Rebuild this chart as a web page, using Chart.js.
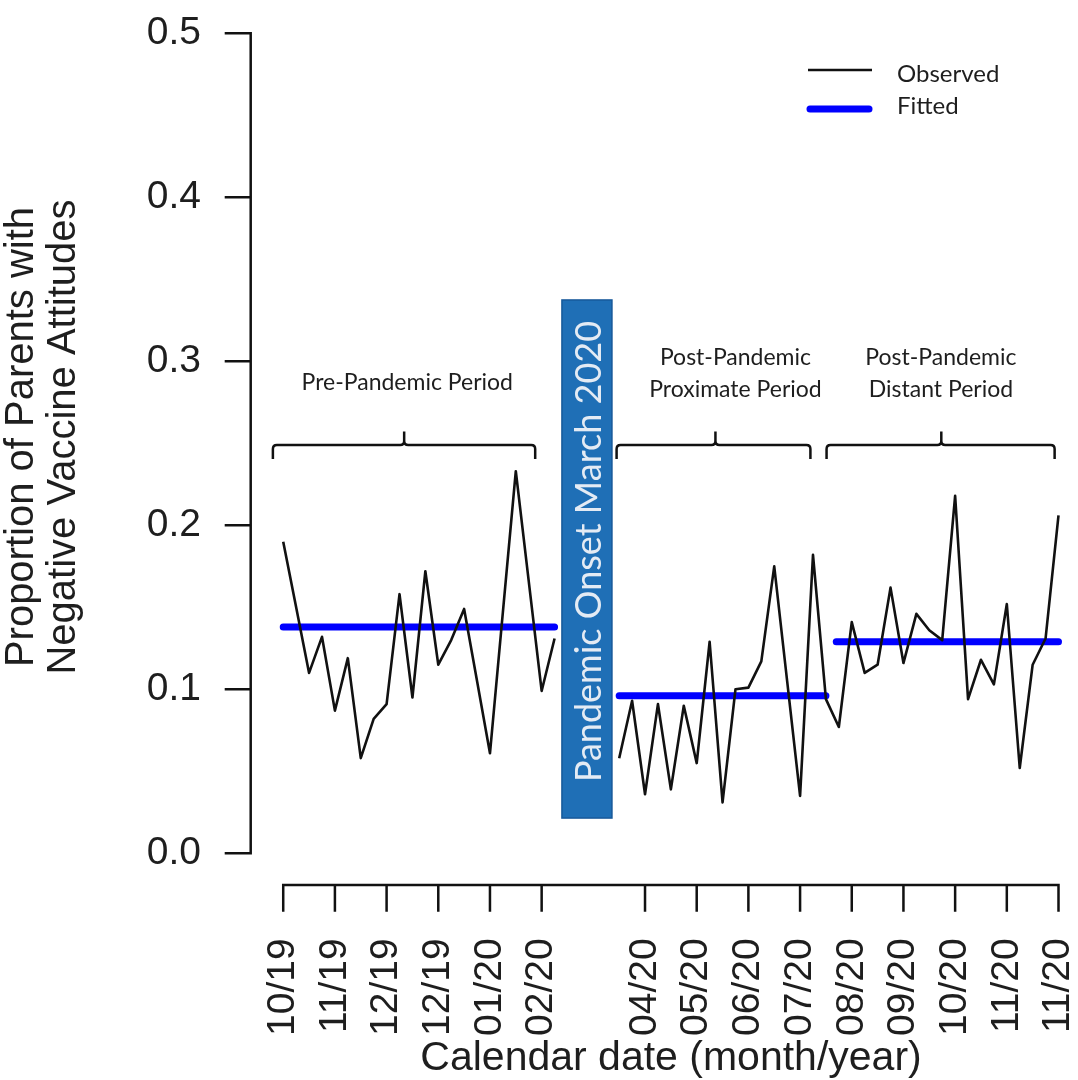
<!DOCTYPE html>
<html>
<head>
<meta charset="utf-8">
<script src="https://cdn.jsdelivr.net/npm/chart.js@4.4.1/dist/chart.umd.min.js"></script>
<style>
html,body{margin:0;padding:0;background:#fff;}
#wrap{width:1078px;height:1080px;position:relative;}
</style>
</head>
<body>
<div id="wrap"><canvas id="c" width="1078" height="1080"></canvas></div>
<script>
// ---------- data ----------
const weeks = [0,1,2,3,4,5,6,7,8,9,10,11,12,13,14,15,16,17,18,19,20,
  21,22,23,24,25,26,27,28,29,30,31,32,33,34,35,36,37,38,39,40,
  41,42,43,44,45,46,47,48,49,50,51,52,53,54,55,56,57,58,59,60];
const observed = [0.190,0.150,0.110,0.132,0.087,0.119,0.058,0.082,0.091,0.158,0.095,
  0.172,0.115,0.130,0.149,0.105,0.061,0.147,0.233,0.166,0.099,
  0.131,null,null,null,null,0.058,0.093,0.036,0.091,0.039,
  0.090,0.055,0.129,0.031,0.100,0.101,0.117,0.175,0.105,0.035,
  0.182,0.094,0.077,0.141,0.110,0.115,0.162,0.116,0.146,0.136,
  0.130,0.218,0.094,0.118,0.103,0.152,0.052,0.115,0.131,0.206];
const fittedLevels = [0.138, 0.096, 0.129];
const fittedStart = [0, 26, 42.8];
const fittedEnd = [21, 42, 60];

const xTickWeeks = [0,4,8,12,16,20,28,32,36,40,44,48,52,56,60];
const xTickLabels = ['10/19','11/19','12/19','12/19','01/20','02/20','04/20','05/20','06/20','07/20','08/20','09/20','10/20','11/20','11/20'];
const yTickValues = [0,0.1,0.2,0.3,0.4,0.5];
const yTickLabels = ['0.0','0.1','0.2','0.3','0.4','0.5'];
const xTitle = 'Calendar date (month/year)';
const yTitle = ['Proportion of Parents with','Negative Vaccine Attitudes'];

const periodLabels = [['Pre-Pandemic Period'],['Post-Pandemic','Proximate Period'],['Post-Pandemic','Distant Period']];
const periodLabelX = [9.6, 35.0, 50.9];
const bracketStart = [-0.8, 25.8, 42.05];
const bracketEnd = [19.5, 40.8, 59.7];
const bracketMid = [9.36, 33.45, 50.93];
const bracketY = {top:0.249, ends:0.2404, tip:0.2572};
const labelY1 = 0.2868, labelY2a = 0.3024, labelY2b = 0.2829;

const onsetText = 'Pandemic Onset March 2020';
const onsetBoxX = [21.57, 25.44];
const onsetBoxY = [0.0215, 0.3374];
const onsetTextY = 0.184;

const legendLabels = ['Observed','Fitted'];

// ---------- chart ----------
const obsData = weeks.map((w,i)=>({x:w, y:observed[i]}));
const fitDatasets = fittedLevels.map((lv,i)=>({
  label:'Fitted'+i,
  data:[{x:fittedStart[i],y:lv},{x:fittedEnd[i],y:lv}],
  borderColor:'#0000ff', borderWidth:7, borderCapStyle:'round',
  pointRadius:0, fill:false, clip:false
}));

const AXIS_COLOR = '#111';
const TEXT_COLOR = '#1e1e1e';
const CAL = 'Lato, "Open Sans", sans-serif';
const ARIAL = '"Liberation Sans", Arial, sans-serif';

const overlay = {
  id:'overlay',
  afterDatasetsDraw(chart){
    const {ctx, scales:{x,y}} = chart;
    ctx.save();
    // onset box
    const bx1 = x.getPixelForValue(onsetBoxX[0]), bx2 = x.getPixelForValue(onsetBoxX[1]);
    const by1 = y.getPixelForValue(onsetBoxY[1]), by2 = y.getPixelForValue(onsetBoxY[0]);
    ctx.fillStyle = '#1f6fb6';
    ctx.fillRect(bx1, by1, bx2-bx1, by2-by1);
    ctx.strokeStyle = '#17599a'; ctx.lineWidth = 1.5;
    ctx.strokeRect(bx1, by1, bx2-bx1, by2-by1);
    ctx.translate((bx1+bx2)/2, y.getPixelForValue(onsetTextY));
    ctx.rotate(-Math.PI/2);
    ctx.fillStyle = '#e4ebf4';
    ctx.font = '36px ' + CAL;
    ctx.textAlign = 'center'; ctx.textBaseline = 'middle';
    ctx.fillText(onsetText, 0, 2);
    ctx.restore();

    // brackets
    ctx.save();
    ctx.strokeStyle = AXIS_COLOR; ctx.lineWidth = 2.5; ctx.lineJoin='round'; ctx.lineCap='butt';
    const yt = y.getPixelForValue(bracketY.top), ye = y.getPixelForValue(bracketY.ends), yp = y.getPixelForValue(bracketY.tip);
    for (let i=0;i<bracketStart.length;i++){
      const x1 = x.getPixelForValue(bracketStart[i]);
      const x2 = x.getPixelForValue(bracketEnd[i]);
      const xm = x.getPixelForValue(bracketMid[i]);
      const r = 4;
      ctx.beginPath();
      ctx.moveTo(x1, ye);
      ctx.lineTo(x1, yt + r);
      ctx.quadraticCurveTo(x1, yt, x1 + r, yt);
      ctx.lineTo(xm - r, yt);
      ctx.quadraticCurveTo(xm, yt, xm, yt - r);
      ctx.lineTo(xm, yp);
      ctx.moveTo(xm, yt - r);
      ctx.quadraticCurveTo(xm, yt, xm + r, yt);
      ctx.lineTo(x2 - r, yt);
      ctx.quadraticCurveTo(x2, yt, x2, yt + r);
      ctx.lineTo(x2, ye);
      ctx.stroke();
    }
    // period labels
    ctx.fillStyle = TEXT_COLOR; ctx.font = '23px ' + CAL;
    ctx.textAlign = 'center'; ctx.textBaseline = 'middle';
    periodLabels.forEach((lines,i)=>{
      const px = x.getPixelForValue(periodLabelX[i]);
      if (lines.length === 1) {
        ctx.fillText(lines[0], px, y.getPixelForValue(labelY1));
      } else {
        ctx.fillText(lines[0], px, y.getPixelForValue(labelY2a));
        ctx.fillText(lines[1], px, y.getPixelForValue(labelY2b));
      }
    });
    ctx.restore();
  },
  afterDraw(chart){
    const {ctx, chartArea, scales:{x,y}} = chart;
    ctx.save();
    ctx.strokeStyle = AXIS_COLOR; ctx.lineWidth = 2.5; ctx.lineCap='butt'; ctx.lineJoin='miter';
    // y axis
    const ax = chartArea.left;
    const y0 = y.getPixelForValue(yTickValues[0]);
    const y1 = y.getPixelForValue(yTickValues[yTickValues.length-1]);
    ctx.beginPath();
    ctx.moveTo(ax-26, y1); ctx.lineTo(ax, y1); ctx.lineTo(ax, y0); ctx.lineTo(ax-26, y0);
    yTickValues.slice(1,-1).forEach(v=>{ const p=y.getPixelForValue(v); ctx.moveTo(ax-26,p); ctx.lineTo(ax,p); });
    ctx.stroke();
    // x axis
    const ay = chartArea.bottom + 31.7;
    const xa = x.getPixelForValue(xTickWeeks[0]);
    const xb = x.getPixelForValue(xTickWeeks[xTickWeeks.length-1]);
    ctx.beginPath();
    ctx.moveTo(xa, ay+26.7); ctx.lineTo(xa, ay); ctx.lineTo(xb, ay); ctx.lineTo(xb, ay+26.7);
    xTickWeeks.slice(1,-1).forEach(v=>{ const p=x.getPixelForValue(v); ctx.moveTo(p,ay); ctx.lineTo(p,ay+26.7); });
    ctx.stroke();
    // axis titles
    ctx.fillStyle = TEXT_COLOR;
    ctx.textAlign = 'center'; ctx.textBaseline = 'middle';
    ctx.font = '41px ' + ARIAL;
    ctx.fillText(xTitle, 671, 1059);
    ctx.save();
    ctx.font = '40px ' + ARIAL;
    ctx.translate(22, 437); ctx.rotate(-Math.PI/2);
    ctx.fillText(yTitle[0], 0, 0);
    ctx.fillText(yTitle[1], 0, 42);
    ctx.restore();
    // legend
    ctx.lineCap='butt';
    ctx.strokeStyle='#111'; ctx.lineWidth=2.5;
    ctx.beginPath(); ctx.moveTo(808,70); ctx.lineTo(872,70); ctx.stroke();
    ctx.strokeStyle='#0000ff'; ctx.lineWidth=7; ctx.lineCap='round';
    ctx.beginPath(); ctx.moveTo(810,109); ctx.lineTo(869,109); ctx.stroke();
    ctx.fillStyle = TEXT_COLOR; ctx.font = '24px ' + CAL;
    ctx.textAlign='left'; ctx.textBaseline='middle';
    ctx.fillText(legendLabels[0], 897, 74);
    ctx.fillText(legendLabels[1], 897, 106);
    ctx.restore();
  }
};

Chart.defaults.font.family = ARIAL;
Chart.defaults.color = TEXT_COLOR;

new Chart(document.getElementById('c'), {
  type:'line',
  data:{
    datasets:[
      {label:'Observed', data:obsData, borderColor:'#111', borderWidth:2.6,
       pointRadius:0, fill:false, spanGaps:false, tension:0, borderJoinStyle:'round', clip:false},
      ...fitDatasets
    ]
  },
  options:{
    responsive:false, animation:false,
    layout:{padding:{left:0,right:0,top:33.3,bottom:0}},
    plugins:{legend:{display:false}, tooltip:{enabled:false}},
    scales:{
      x:{
        type:'linear', min:-2.517, max:60.05,
        grid:{display:false, drawTicks:true, tickLength:85}, border:{display:false},
        afterBuildTicks:(axis)=>{ axis.ticks = xTickWeeks.map(v=>({value:v})); },
        afterFit:(s)=>{ s.height = 1080 - 853.3; },
        ticks:{
          autoSkip:false, minRotation:90, maxRotation:90, padding:0,
          font:{size:39, lineHeight:0.5}, color:TEXT_COLOR,
          callback:(v,i)=>xTickLabels[i]
        },
        title:{display:false}
      },
      y:{
        type:'linear', min:0, max:0.5,
        grid:{display:false, drawTicks:true, tickLength:49.7}, border:{display:false},
        afterBuildTicks:(axis)=>{ axis.ticks = yTickValues.map(v=>({value:v})); },
        afterFit:(s)=>{ s.width = 250.7; },
        ticks:{ padding:0, font:{size:39}, color:TEXT_COLOR, callback:(v,i)=>yTickLabels[i] },
        title:{display:false}
      }
    }
  },
  plugins:[overlay]
});
</script>
</body>
</html>
